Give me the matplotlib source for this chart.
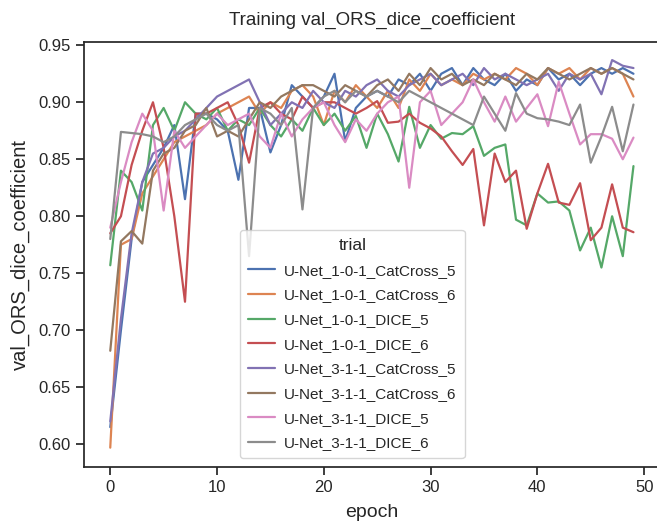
import matplotlib
matplotlib.use('Agg')
from matplotlib import pyplot as plt
import numpy as np
import pandas as pd
import seaborn as sns

epochs = list(range(50))

trials = ['U-Net_1-0-1_CatCross_5', 'U-Net_1-0-1_CatCross_6',
          'U-Net_1-0-1_DICE_5', 'U-Net_1-0-1_DICE_6',
          'U-Net_3-1-1_CatCross_5', 'U-Net_3-1-1_CatCross_6',
          'U-Net_3-1-1_DICE_5', 'U-Net_3-1-1_DICE_6']

cc5_101 = [0.615, 0.70, 0.78, 0.83, 0.845, 0.86, 0.88, 0.815, 0.89, 0.89,
           0.885, 0.875, 0.832, 0.895, 0.895, 0.856, 0.88, 0.915, 0.905, 0.895,
           0.905, 0.925, 0.866, 0.895, 0.905, 0.91, 0.905, 0.92, 0.915, 0.925,
           0.91, 0.925, 0.93, 0.915, 0.93, 0.92, 0.915, 0.925, 0.91, 0.92,
           0.915, 0.93, 0.92, 0.925, 0.915, 0.925, 0.93, 0.925, 0.93, 0.925]
cc6_101 = [0.597, 0.775, 0.78, 0.82, 0.835, 0.85, 0.865, 0.87, 0.875, 0.88,
           0.89, 0.895, 0.90, 0.905, 0.89, 0.90, 0.895, 0.91, 0.915, 0.905,
           0.88, 0.91, 0.90, 0.915, 0.905, 0.895, 0.91, 0.895, 0.92, 0.91,
           0.925, 0.915, 0.92, 0.915, 0.925, 0.92, 0.925, 0.92, 0.93, 0.925,
           0.915, 0.93, 0.925, 0.93, 0.92, 0.93, 0.925, 0.93, 0.925, 0.905]
dice5_101 = [0.757, 0.84, 0.83, 0.805, 0.88, 0.895, 0.875, 0.90, 0.89, 0.885,
             0.895, 0.875, 0.885, 0.88, 0.895, 0.88, 0.87, 0.885, 0.875, 0.895,
             0.88, 0.89, 0.875, 0.888, 0.86, 0.89, 0.872, 0.848, 0.896, 0.86,
             0.88, 0.868, 0.873, 0.872, 0.879, 0.853, 0.86, 0.863, 0.797, 0.792,
             0.82, 0.812, 0.813, 0.805, 0.77, 0.79, 0.755, 0.80, 0.765, 0.844]
dice6_101 = [0.785, 0.80, 0.845, 0.875, 0.90, 0.86, 0.80, 0.725, 0.89, 0.89,
             0.895, 0.90, 0.88, 0.847, 0.895, 0.90, 0.89, 0.885, 0.905, 0.895,
             0.90, 0.90, 0.895, 0.89, 0.895, 0.901, 0.882, 0.883, 0.89, 0.882,
             0.877, 0.87, 0.857, 0.845, 0.859, 0.792, 0.855, 0.83, 0.84, 0.789,
             0.82, 0.846, 0.812, 0.81, 0.829, 0.779, 0.79, 0.828, 0.79, 0.786]
cc5_311 = [0.62, 0.71, 0.785, 0.83, 0.855, 0.86, 0.87, 0.875, 0.885, 0.895,
           0.905, 0.91, 0.915, 0.92, 0.90, 0.88, 0.89, 0.90, 0.895, 0.91,
           0.90, 0.895, 0.91, 0.905, 0.915, 0.92, 0.91, 0.905, 0.915, 0.92,
           0.925, 0.915, 0.92, 0.925, 0.915, 0.93, 0.92, 0.925, 0.92, 0.915,
           0.92, 0.925, 0.91, 0.925, 0.92, 0.925, 0.907, 0.937, 0.932, 0.93]
cc6_311 = [0.682, 0.778, 0.787, 0.776, 0.84, 0.855, 0.86, 0.875, 0.88, 0.895,
           0.87, 0.875, 0.87, 0.885, 0.90, 0.895, 0.905, 0.91, 0.915, 0.915,
           0.91, 0.905, 0.915, 0.91, 0.905, 0.915, 0.92, 0.91, 0.925, 0.915,
           0.93, 0.92, 0.925, 0.915, 0.92, 0.915, 0.925, 0.92, 0.915, 0.925,
           0.92, 0.93, 0.925, 0.92, 0.925, 0.93, 0.925, 0.93, 0.925, 0.92]
dice5_311 = [0.79, 0.83, 0.865, 0.89, 0.875, 0.805, 0.875, 0.86, 0.87, 0.88,
             0.89, 0.88, 0.885, 0.89, 0.87, 0.86, 0.89, 0.87, 0.885, 0.895,
             0.90, 0.88, 0.865, 0.885, 0.875, 0.89, 0.90, 0.905, 0.825, 0.90,
             0.91, 0.88, 0.89, 0.90, 0.92, 0.90, 0.883, 0.905, 0.883, 0.895,
             0.907, 0.879, 0.918, 0.89, 0.863, 0.872, 0.872, 0.868, 0.85, 0.869]
dice6_311 = [0.78, 0.874, 0.873, 0.872, 0.87, 0.865, 0.87, 0.88, 0.885, 0.89,
             0.88, 0.875, 0.88, 0.765, 0.895, 0.89, 0.88, 0.895, 0.806, 0.895,
             0.905, 0.91, 0.90, 0.91, 0.905, 0.91, 0.905, 0.90, 0.91, 0.905,
             0.90, 0.895, 0.89, 0.885, 0.88, 0.905, 0.89, 0.875, 0.908, 0.89,
             0.886, 0.885, 0.883, 0.88, 0.898, 0.847, 0.87, 0.896, 0.857, 0.898]

series = [cc5_101, cc6_101, dice5_101, dice6_101, cc5_311, cc6_311, dice5_311, dice6_311]

rows = []
for name, vals in zip(trials, series):
    for e, v in zip(epochs, vals):
        rows.append({'epoch': e, 'val_ORS_dice_coefficient': v, 'trial': name})
df = pd.DataFrame(rows)

sns.set_theme(style='ticks', palette='deep')
plt.rcParams['font.family'] = ['Liberation Sans', 'DejaVu Sans']

fig = plt.figure(figsize=(6.57, 5.23), dpi=100)
ax = fig.add_axes([0.128, 0.107, 0.876, 0.813])
sns.lineplot(data=df, x='epoch', y='val_ORS_dice_coefficient', hue='trial', ax=ax, linewidth=1.6)

ax.set_xlim(-2.45, 51.45)
ax.set_ylim(0.580, 0.953)
ax.set_xticks([0, 10, 20, 30, 40, 50])
ax.set_yticks([0.60, 0.65, 0.70, 0.75, 0.80, 0.85, 0.90, 0.95])
ax.set_title('Training val_ORS_dice_coefficient', fontsize=13.5, pad=12)
ax.set_xlabel('epoch', fontsize=14, labelpad=6)
ax.set_ylabel('val_ORS_dice_coefficient', fontsize=14.5, labelpad=6)
ax.tick_params(labelsize=12, length=6)
leg = ax.legend(title='trial', loc='lower left', bbox_to_anchor=(0.271, 0.021),
                borderaxespad=0, fontsize=11, title_fontsize=12.5,
                labelspacing=0.7, handlelength=1.8, handletextpad=0.6, borderpad=0.5)

fig.savefig('out.png', dpi=100)
